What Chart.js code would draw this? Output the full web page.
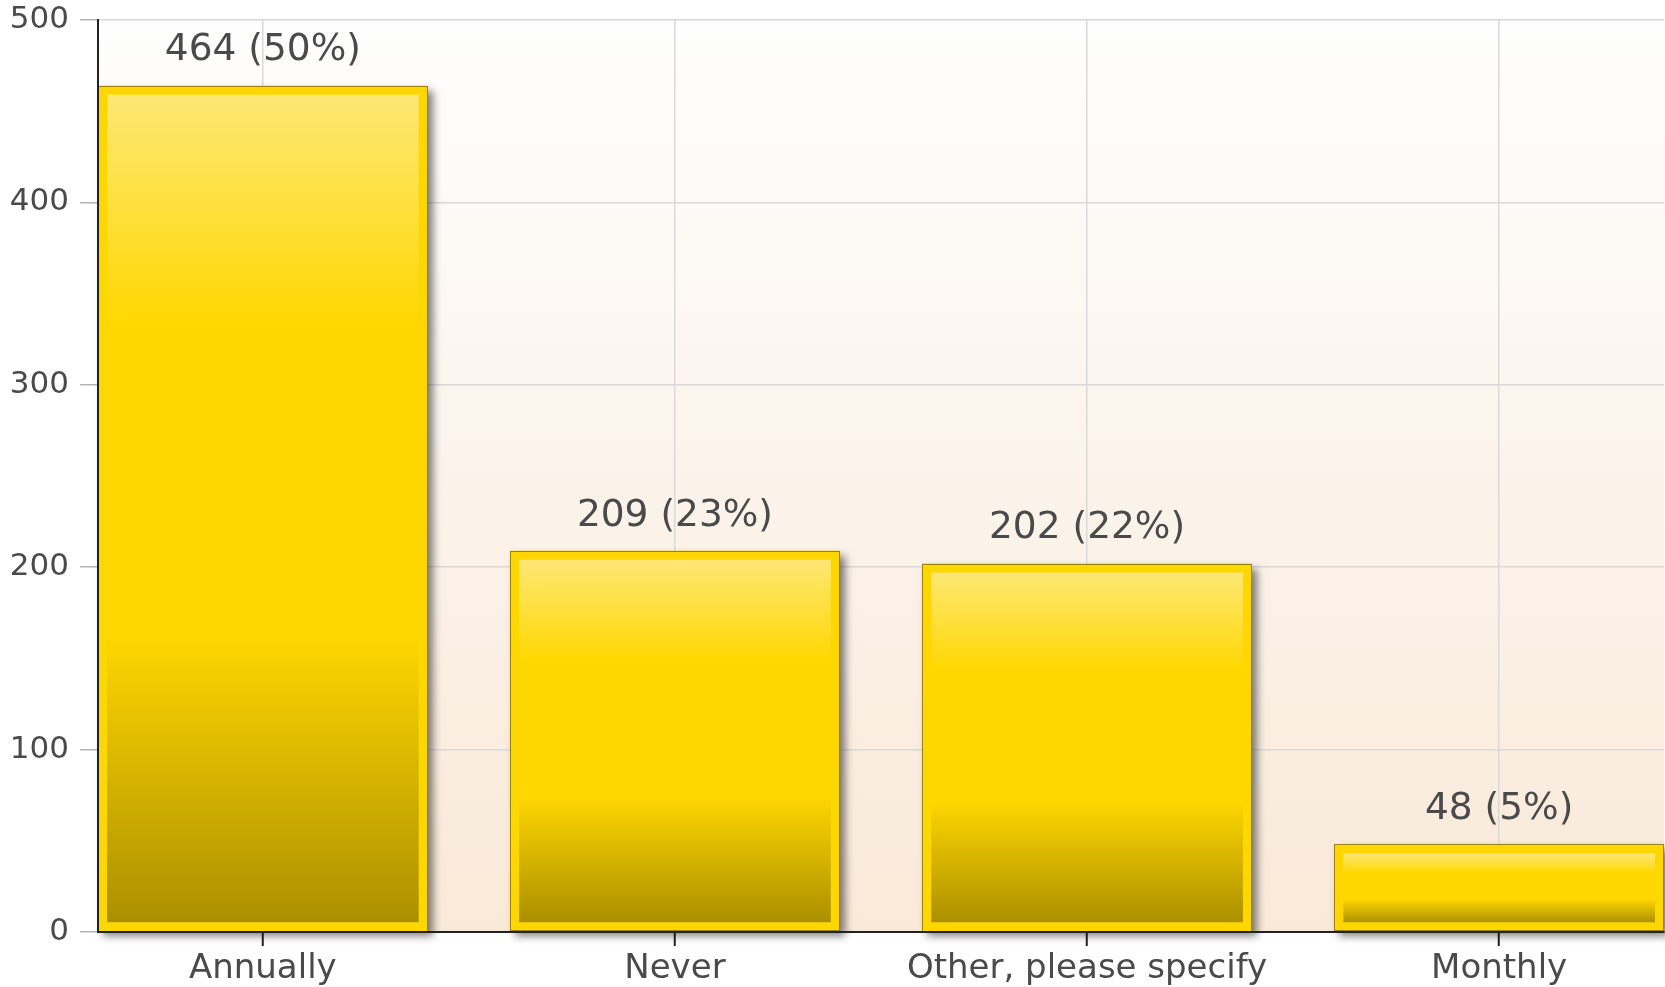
<!DOCTYPE html>
<html><head><meta charset="utf-8">
<script src="https://cdn.jsdelivr.net/npm/chart.js@4/dist/chart.umd.min.js"></script>
<style>html,body{margin:0;padding:0;background:#fff;overflow:hidden}#wrap{width:1665px;height:987px;position:relative}</style>
</head><body><div id="wrap"><canvas id="c"></canvas></div>
<script>
const categories = ['Annually', 'Never', 'Other, please specify', 'Monthly'];
const counts = [464, 209, 202, 48];
const percents = [50, 23, 22, 5];
const yTickValues = [0, 100, 200, 300, 400, 500];

const FONT = "'DejaVu Sans', sans-serif";
const TEXT = '#4a4a4a';
const BORDER_W = 9;

const bgPlugin = {
  id: 'bg',
  beforeDraw(chart) {
    const { ctx, chartArea: a } = chart;
    const g = ctx.createLinearGradient(0, a.top, 0, a.bottom);
    g.addColorStop(0, '#fefefe');
    g.addColorStop(1, '#f9e9d8');
    ctx.save();
    ctx.fillStyle = g;
    ctx.fillRect(a.left, a.top, a.right - a.left, a.bottom - a.top);
    ctx.restore();
  }
};

function barBox(el) {
  const p = el.getProps(['x', 'y', 'base', 'width'], true);
  return { left: p.x - p.width / 2, top: p.y, w: p.width, h: p.base - p.y, cx: p.x };
}

const shadowPlugin = {
  id: 'shadow',
  beforeDatasetsDraw(chart) {
    const ctx = chart.ctx;
    const meta = chart.getDatasetMeta(0);
    ctx.save();
    ctx.shadowColor = 'rgba(0,0,0,0.5)';
    ctx.shadowBlur = 8;
    ctx.shadowOffsetX = 5;
    ctx.shadowOffsetY = 5;
    ctx.fillStyle = '#ffd700';
    meta.data.forEach(el => {
      const b = barBox(el);
      ctx.fillRect(b.left, b.top, b.w, b.h);
    });
    ctx.restore();
  },
  afterDatasetsDraw(chart) {
    const ctx = chart.ctx;
    const meta = chart.getDatasetMeta(0);
    const a = chart.chartArea;
    ctx.save();
    ctx.strokeStyle = 'rgba(90,75,10,0.6)';
    ctx.lineWidth = 1;
    meta.data.forEach((el, i) => {
      const b = barBox(el);
      ctx.strokeRect(Math.round(b.left) + 0.5, Math.round(b.top) + 0.5, Math.round(b.w) - 1, Math.round(b.h) - 1);
    });
    // axis lines re-stroked on top of the bars
    ctx.strokeStyle = '#222';
    ctx.lineWidth = 2;
    ctx.beginPath();
    ctx.moveTo(a.left, a.top);
    ctx.lineTo(a.left, a.bottom);
    ctx.lineTo(a.right, a.bottom);
    ctx.stroke();
    ctx.fillStyle = TEXT;
    ctx.font = '37.5px ' + FONT;
    ctx.textAlign = 'center';
    ctx.textBaseline = 'middle';
    meta.data.forEach((el, i) => {
      const b = barBox(el);
      ctx.fillText(counts[i] + ' (' + percents[i] + '%)', b.cx, b.top - 35);
    });
    ctx.restore();
  }
};

function barGradient(context) {
  const chart = context.chart;
  const ys = chart.scales.y;
  if (!ys || context.type !== 'data') return '#ffd700';
  const v = context.raw.y;
  const top = ys.getPixelForValue(v) + BORDER_W;
  const bot = ys.getPixelForValue(0) - BORDER_W;
  if (!isFinite(top) || !isFinite(bot) || bot <= top) return '#ffd700';
  const g = chart.ctx.createLinearGradient(0, top, 0, bot);
  g.addColorStop(0, '#fde774');
  g.addColorStop(0.28, '#ffd700');
  g.addColorStop(0.65, '#ffd700');
  g.addColorStop(1, '#ab8f00');
  return g;
}

new Chart(document.getElementById('c'), {
  type: 'bar',
  data: {
    datasets: [{
      data: counts.map((v, i) => ({ x: i, y: v })),
      backgroundColor: barGradient,
      borderColor: '#ffd700',
      borderWidth: BORDER_W,
      borderSkipped: false,
      barPercentage: 0.8,
      categoryPercentage: 1
    }]
  },
  plugins: [bgPlugin, shadowPlugin],
  options: {
    responsive: true,
    maintainAspectRatio: false,
    animation: false,
    layout: { padding: { top: 20, right: 1, left: 0, bottom: 0 } },
    plugins: { legend: { display: false }, tooltip: { enabled: false } },
    scales: {
      x: {
        type: 'linear',
        offset: false,
        min: -0.4,
        max: 3.4,
        afterBuildTicks(s) { s.ticks = categories.map((_, i) => ({ value: i })); },
        ticks: {
          callback: (v) => categories[v],
          font: { family: FONT, size: 34 },
          color: TEXT,
          padding: 3,
          autoSkip: false,
          maxRotation: 0
        },
        grid: { offset: false, color: '#d9d9d9', lineWidth: 1.5, tickColor: '#222', tickWidth: 2, tickLength: 14 },
        border: { color: '#222', width: 2 },
        afterFit(s) { s.height = 55; s.paddingLeft = 0; s.paddingRight = 0; }
      },
      y: {
        min: 0,
        max: 500,
        afterBuildTicks(s) { s.ticks = yTickValues.map(v => ({ value: v })); },
        ticks: { font: { family: FONT, size: 31 }, color: TEXT, padding: 11 },
        grid: { color: '#d9d9d9', lineWidth: 1.5, tickColor: '#b5b5b5', tickWidth: 1.5, tickLength: 18 },
        border: { color: '#222', width: 2 },
        afterFit(s) { s.width = 98; s.paddingTop = 0; s.paddingBottom = 0; }
      }
    }
  }
});
</script>
</body></html>
